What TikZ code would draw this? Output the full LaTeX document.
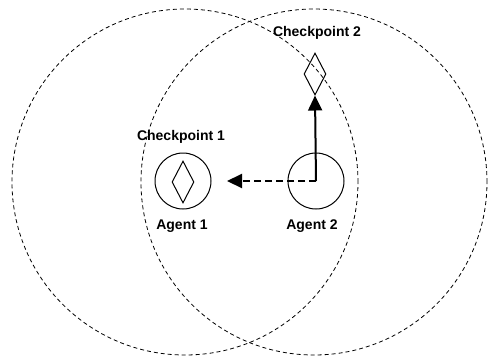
\documentclass[tikz,border=0pt]{standalone}
\usepackage{fontspec}
\setmainfont{Liberation Sans}
\usetikzlibrary{arrows.meta,shapes.geometric}
\begin{document}
\begin{tikzpicture}[x=1pt,y=-1pt,
  rangecirc/.style={draw,circle,dashed,dash pattern=on 4pt off 3pt,line width=0.8pt,minimum size=346pt,inner sep=0pt},
  agentcirc/.style={draw,circle,line width=1pt,minimum size=56pt,inner sep=0pt},
  cpdiamond/.style={draw,diamond,line width=1pt,minimum width=22pt,minimum height=42pt,inner sep=0pt,aspect=0.52},
  lbl/.style={font=\bfseries\fontsize{14}{16}\selectfont,inner sep=0pt},
  tip/.style={-{Triangle[length=15pt,width=14pt]}}
]
\useasboundingbox (0,0) rectangle (488,360);
\node[rangecirc] (r1) at (185,182) {};
\node[rangecirc] (r2) at (314,182) {};
\node[agentcirc] (a1) at (183,181) {};
\node[agentcirc] (a2) at (316,181) {};
\node[cpdiamond] (cp1) at (183,182) {};
\node[cpdiamond] (cp2) at (315,74) {};
\node[lbl] (l1) at (181,137) {Checkpoint 1};
\node[lbl] (l2) at (317,33) {Checkpoint 2};
\node[lbl] (l3) at (182,226) {Agent 1};
\node[lbl] (l4) at (312,226) {Agent 2};
\coordinate (dend) at (227,181);
\draw[tip,line width=2pt] (a2.center) -- (cp2.south);
\draw[tip,line width=2pt,dash pattern=on 7pt off 4pt] (a2.center) -- (dend);
\end{tikzpicture}
\end{document}
